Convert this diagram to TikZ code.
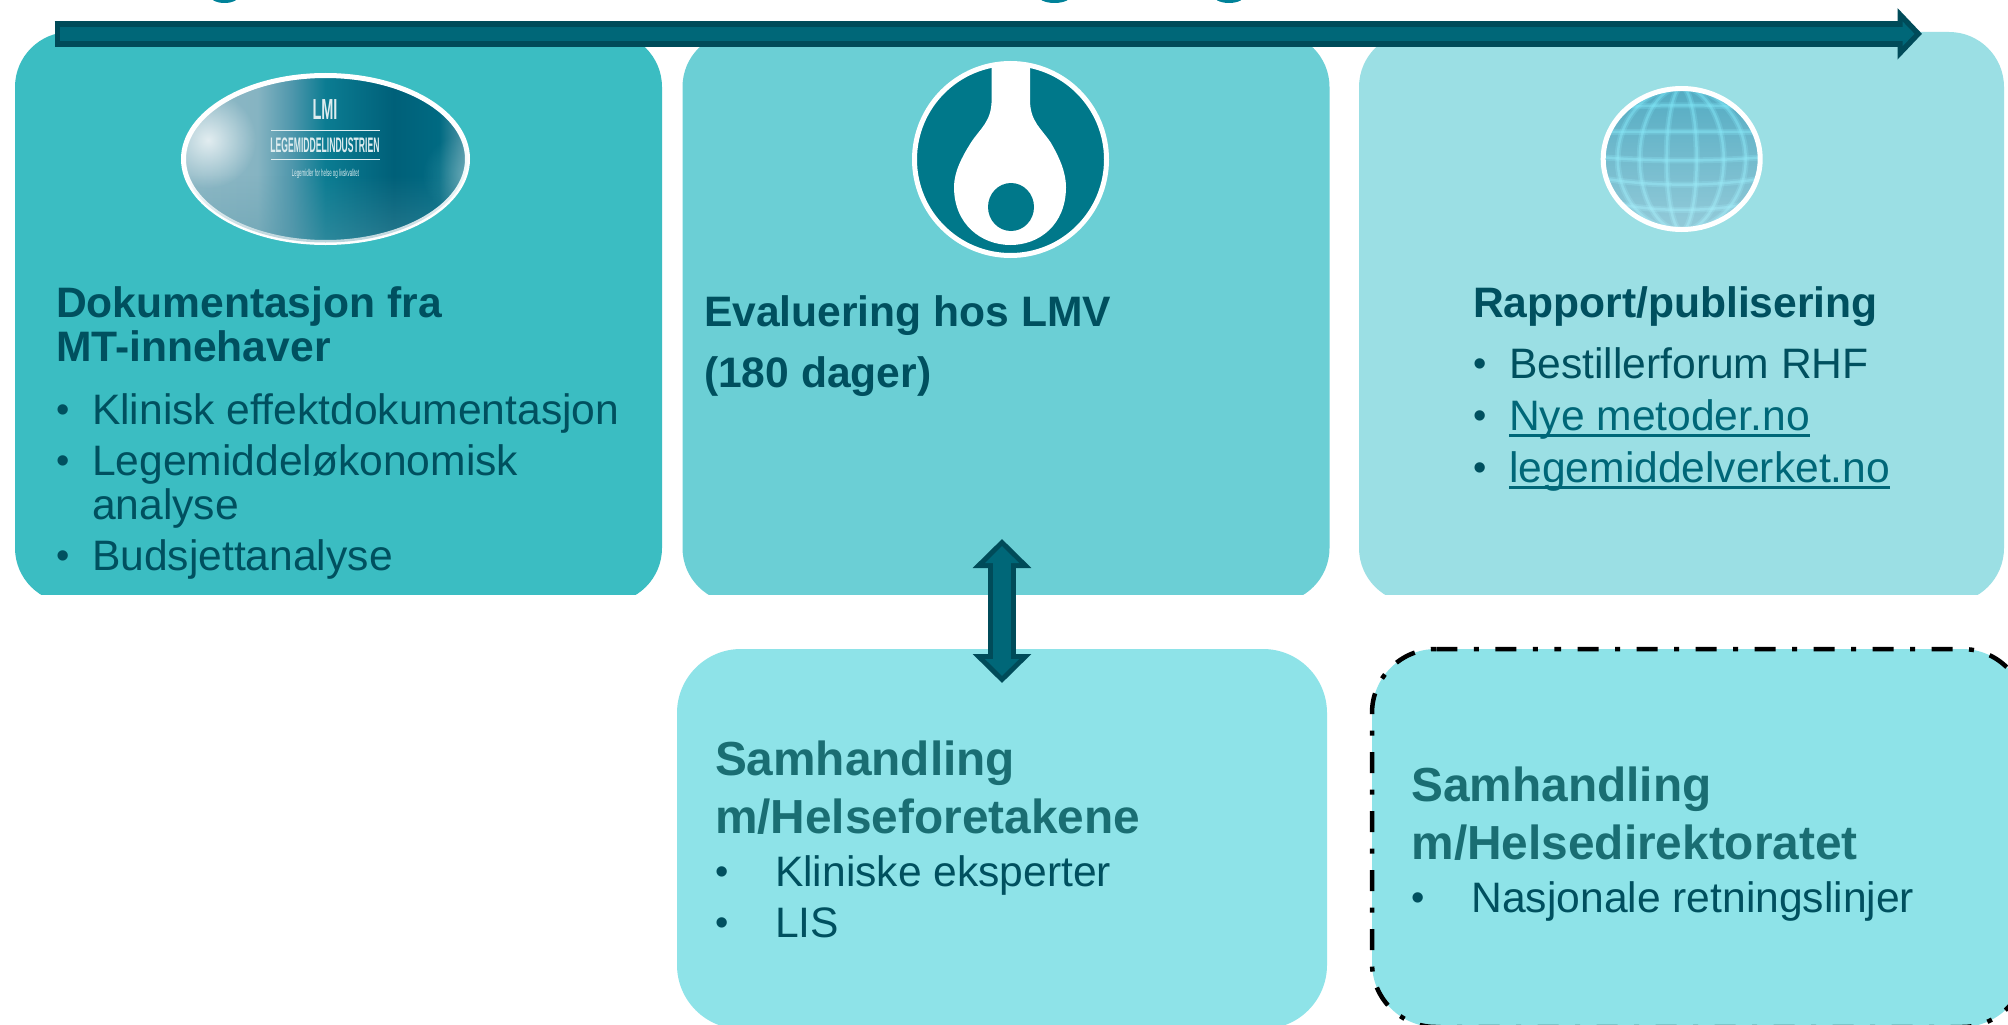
\documentclass[tikz,border=0pt]{standalone}
\usepackage{fontspec}
\usepackage{graphicx}
\setmainfont{Liberation Sans}
\usetikzlibrary{shapes.geometric,arrows.meta,fadings}
\definecolor{boxa}{HTML}{3BBDC2}
\definecolor{boxb}{HTML}{6BCFD5}
\definecolor{boxc}{HTML}{9BDFE4}
\definecolor{boxd}{HTML}{8EE3E8}
\definecolor{ink}{HTML}{00505F}
\definecolor{inkhead}{HTML}{1A6E73}
\definecolor{linkc}{HTML}{006778}
\definecolor{arrowdark}{HTML}{004B59}
\definecolor{arrowfill}{HTML}{006778}
\definecolor{lmvc}{HTML}{00788A}
\definecolor{logotext}{HTML}{DDECEF}
\definecolor{cutc}{HTML}{008299}
\definecolor{lsa}{HTML}{8FB9C6}
\definecolor{lsb}{HTML}{86B4C2}
\definecolor{lsc}{HTML}{4F97AC}
\definecolor{lsd}{HTML}{0B7C92}
\definecolor{lse}{HTML}{006079}
\definecolor{lsf}{HTML}{006A82}
\definecolor{lsg}{HTML}{5A9AAA}
\definecolor{gcell}{HTML}{52ABC2}
\definecolor{gline}{HTML}{78E4F6}
\definecolor{gedge}{HTML}{CFE3E7}
\pgfdeclarehorizontalshading{lmishade}{100bp}{
 color(0bp)=(lsa); color(25bp)=(lsa); color(38bp)=(lsb); color(44bp)=(lsc);
 color(50bp)=(lsd); color(62bp)=(lse); color(70bp)=(lsf); color(75bp)=(lsg); color(100bp)=(lsg)}
\pgfdeclareradialshading{edgeshade}{\pgfpoint{0bp}{0bp}}{color(0bp)=(black); color(30bp)=(black); color(47bp)=(white); color(100bp)=(white)}
\pgfdeclarefading{edgefade}{\pgfuseshading{edgeshade}}
\tikzfading[name=spotfade, inner color=transparent!25, outer color=transparent!100]
\tikzfading[name=lowfade, top color=transparent!100, bottom color=transparent!20]
\tikzset{
 panel/.style={rectangle, rounded corners=55pt, anchor=north west, inner sep=0pt, outer sep=0pt},
 lowpanel/.style={rectangle, rounded corners=64pt, anchor=north west, inner sep=0pt, outer sep=0pt},
 basetext/.style={anchor=base west, inner sep=0pt, outer sep=0pt, text=ink, font=\fontsize{42.6}{50}\selectfont},
 headtext/.style={basetext, font=\fontsize{42.6}{50}\selectfont\bfseries},
 lowhead/.style={basetext, text=inkhead, font=\fontsize{47.8}{56}\selectfont\bfseries},
 bulletmark/.style={anchor=base, inner sep=0pt, outer sep=0pt, text=ink, font=\fontsize{38}{44}\selectfont},
 logoline/.style={anchor=center, inner sep=0pt, outer sep=0pt, text=logotext},
 ring/.style={ellipse, draw=white, line width=5pt, inner sep=0pt, outer sep=0pt},
 globesoft/.style={draw=gline, line width=6pt, opacity=.25},
 globeline/.style={draw=gline, line width=2.5pt, opacity=.45},
 dashborder/.style={draw=black, line width=4.5pt, rounded corners=64pt, dash pattern=on 5pt off 16.5pt on 21pt off 16.5pt}
}
\newcommand{\lnk}[1]{\leavevmode\setbox0\hbox{#1}\rlap{\rule[-6.5pt]{\wd0}{2.6pt}}\box0}
\newcommand{\blt}{\raisebox{1.7pt}{•}}
\begin{document}
\begin{tikzpicture}[x=1pt,y=-1pt]
\clip (0,0) rectangle (2008,1025);
\fill[white] (0,0) rectangle (2008,1025);
% cut-off descenders at the top edge
\fill[cutc] (224.5,-5) ellipse [x radius=15, y radius=8];
\fill[cutc] (1054.5,-5) ellipse [x radius=17, y radius=8];
\fill[cutc] (1229,-5) ellipse [x radius=16, y radius=8];
% top panels
\begin{scope}
\clip (0,0) rectangle (2008,594.5);
\node[panel, fill=boxa, minimum width=647pt, minimum height=571pt] (boxA) at (15,32) {};
\node[panel, fill=boxb, minimum width=647pt, minimum height=571pt] (boxB) at (682.5,32) {};
\node[panel, fill=boxc, minimum width=645pt, minimum height=571pt] (boxC) at (1359,32) {};
\end{scope}
% lower panels
\node[lowpanel, fill=boxd, minimum width=650pt, minimum height=380pt] (boxD) at (677,649) {};
\node[lowpanel, fill=boxd, minimum width=654pt, minimum height=378pt] (boxE) at (1372,649) {};
\coordinate (eS) at (1492,649);
\coordinate (eA) at (2026,649);
\coordinate (eB) at (2026,1027);
\coordinate (eC) at (1372,1027);
\coordinate (eD) at (1372,649);
\draw[dashborder] (eS) -- (eA) -- (eB) -- (eC) -- (eD) -- cycle;
% LMI logo
\node[ring, shading=lmishade, minimum width=284pt, minimum height=167pt] (lmi) at (325.5,159) {};
\begin{scope}
\clip (325.5,159) ellipse [x radius=142, y radius=83.5];
\fill[white, path fading=spotfade] (208,140) circle [radius=48];
\fill[lsg, path fading=lowfade, opacity=.55] (183,175) rectangle (470,245);
\fill[boxa!40!white, opacity=.3, path fading=spotfade] (462,175) circle [radius=40];
\end{scope}
\node[logoline] (lmiA) at (325,110) {\scalebox{.5}[1]{\fontsize{29}{32}\selectfont\bfseries LMI}};
\node[logoline] (lmiB) at (325,145.5) {\scalebox{.41}[1]{\fontsize{21}{24}\selectfont\bfseries LEGEMIDDELINDUSTRIEN}};
\node[logoline] (lmiC) at (325.5,174) {\scalebox{.44}[1]{\fontsize{10}{12}\selectfont Legemidler for helse og livskvalitet}};
\fill[logotext] (270.5,129.5) rectangle (379.5,131);
\fill[logotext] (270.5,158.5) rectangle (379.5,160);
% LMV logo
\node[ring, fill=lmvc, minimum width=192pt, minimum height=192pt] (lmv) at (1010.5,159.5) {};
\begin{scope}
\clip (1010.5,159.5) ellipse [x radius=96, y radius=96];
\fill[white] (991.6,60) -- (991.6,100) .. controls (991.6,122) and (979.5,129) .. (970.7,143)
 .. controls (961.9,157) and (954,172) .. (954,187) .. controls (954,225) and (982,245) .. (1010.5,245)
 .. controls (1039,245) and (1066,225) .. (1066,187) .. controls (1066,172) and (1059.1,157) .. (1051,143)
 .. controls (1042,129) and (1030,122) .. (1030,100) -- (1030,60) -- cycle;
\end{scope}
\fill[lmvc] (1011,207) ellipse [x radius=23, y radius=24];
% Globe
\begin{scope}
\clip (1681.7,159) ellipse [x radius=78.5, y radius=70.5];
\fill[gcell] (1600,85) rectangle (1765,235);
\foreach \mer in {15,42,64}{
 \draw[globesoft] (1681.7,159) ellipse [x radius=\mer, y radius=72];
 \draw[globeline] (1681.7,159) ellipse [x radius=\mer, y radius=72];}
\foreach \pard in {-50,-27,-2,19,41,59}{
 \draw[globesoft] (1600,159+\pard) .. controls (1650,159+\pard*1.2+5) and (1715,159+\pard*1.2+5) .. (1765,159+\pard);
 \draw[globeline] (1600,159+\pard) .. controls (1650,159+\pard*1.2+5) and (1715,159+\pard*1.2+5) .. (1765,159+\pard);}
\fill[white, opacity=.4, path fading=north] (1600,85) rectangle (1765,235);
\fill[gedge, path fading=edgefade] (1681.7,159) ellipse [x radius=79, y radius=71];
\end{scope}
\node[ring, minimum width=157pt, minimum height=141pt] (globe) at (1681.7,159) {};
% Panel A text
\node[headtext] (a1) at (56,317.5) {Dokumentasjon fra};
\node[headtext] (a2) at (56,361) {MT-innehaver};
\node[bulletmark] (ab1) at (63,424) {\blt};
\node[basetext] (a3) at (92,424) {Klinisk effektdokumentasjon};
\node[bulletmark] (ab2) at (63,475) {\blt};
\node[basetext] (a4) at (92,475) {Legemiddeløkonomisk};
\node[basetext] (a5) at (92,519) {analyse};
\node[bulletmark] (ab3) at (63,570) {\blt};
\node[basetext] (a6) at (92,570) {Budsjettanalyse};
% Panel B text
\node[headtext] (b1) at (704,326.5) {Evaluering hos LMV};
\node[headtext] (b2) at (704,387) {(180 dager)};
% Panel C text
\node[headtext] (c1) at (1473,317.5) {Rapport/publisering};
\node[bulletmark] (cb1) at (1480,378) {\blt};
\node[basetext] (c2) at (1509,378) {Bestillerforum RHF};
\node[bulletmark] (cb2) at (1480,430.5) {\blt};
\node[basetext, text=linkc] (c3) at (1509,430.5) {\lnk{Nye metoder.no}};
\node[bulletmark] (cb3) at (1480,482.5) {\blt};
\node[basetext, text=linkc] (c4) at (1509,482.5) {\lnk{legemiddelverket.no}};
% Panel D text
\node[lowhead] (d1) at (715,775.5) {Samhandling};
\node[lowhead] (d2) at (715,833.5) {m/Helseforetakene};
\node[bulletmark] (db1) at (722,886.5) {\blt};
\node[basetext] (d3) at (775,886.5) {Kliniske eksperter};
\node[bulletmark] (db2) at (722,937) {\blt};
\node[basetext] (d4) at (775,937) {LIS};
% Panel E text
\node[lowhead] (e1) at (1411.5,801) {Samhandling};
\node[lowhead] (e2) at (1411.5,859) {m/Helsedirektoratet};
\node[bulletmark] (eb1) at (1418,912) {\blt};
\node[basetext] (e3) at (1471.5,912) {Nasjonale retningslinjer};
% Timeline arrow
\coordinate (tlS) at (54.5,33.8);
\coordinate (tlE) at (1922,33.8);
\coordinate (tlSi) at (59.5,33.8);
\coordinate (tlEi) at (1914.5,33.8);
\draw[arrowdark, line width=25.7pt, -{Triangle[length=24.5pt,width=50pt]}] (tlS) -- (tlE);
\draw[arrowfill, line width=14.5pt, -{Triangle[length=12pt,width=24pt]}] (tlSi) -- (tlEi);
% Double arrow
\coordinate (daT) at (1002,539);
\coordinate (daB) at (1002,683);
\coordinate (daTi) at (1002,546);
\coordinate (daBi) at (1002,676);
\draw[arrowdark, line width=28pt, {Triangle[length=29pt,width=57pt]}-{Triangle[length=29pt,width=57pt]}] (daT) -- (daB);
\draw[arrowfill, line width=17.5pt, {Triangle[length=17pt,width=33pt]}-{Triangle[length=17pt,width=33pt]}] (daTi) -- (daBi);
\end{tikzpicture}
\end{document}
